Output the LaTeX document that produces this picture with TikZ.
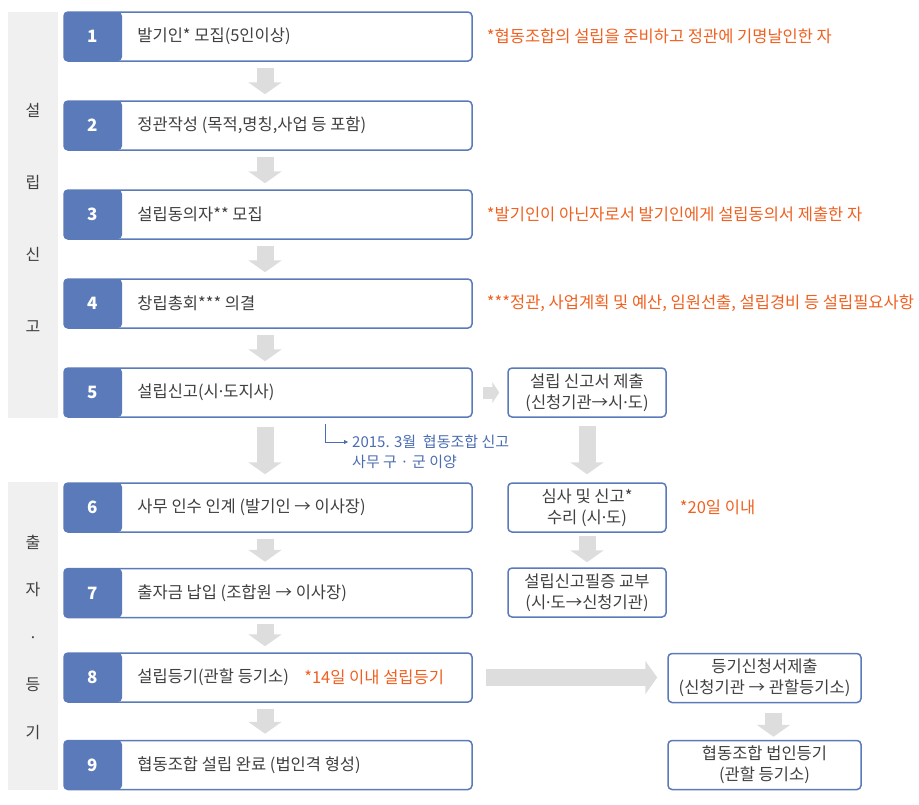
\documentclass[tikz,border=0pt]{standalone}
\usepackage{fontspec}
\setmainfont{Noto Sans CJK KR}
\newfontfamily\dotfont{Noto Sans}
\newcommand{\mdot}{{\dotfont ·}}
\usetikzlibrary{arrows.meta, positioning}
\definecolor{stepblue}{RGB}{90,122,186}
\definecolor{noteorange}{RGB}{240,96,32}
\definecolor{noteblue}{RGB}{74,108,176}
\definecolor{arrowgrey}{RGB}{221,221,221}
\definecolor{bandgrey}{RGB}{240,240,240}
\definecolor{textgrey}{RGB}{64,64,64}

\begin{document}
\begin{tikzpicture}[
    x=1pt, y=1pt,
    stepbox/.style={draw=stepblue, line width=1.5pt, rounded corners=4pt, fill=white,
        minimum width=408pt, minimum height=49pt, inner sep=0pt,
        path picture={\fill[stepblue] (path picture bounding box.south west) rectangle ([xshift=58pt]path picture bounding box.north west);}},
    stepnum/.style={font=\fontsize{17}{20}\selectfont\bfseries, text=white, inner sep=0pt},
    steptext/.style={font=\fontsize{16.5}{19}\selectfont, text=textgrey, inner sep=0pt, anchor=west},
    sidebox/.style={draw=stepblue, line width=1.5pt, rounded corners=4pt, fill=white,
        minimum width=158pt, minimum height=49pt, inner sep=0pt, align=center,
        font=\fontsize{16.5}{21}\selectfont, text=textgrey},
    notetext/.style={font=\fontsize{16.5}{19}\selectfont, text=noteorange, inner sep=0pt},
    flowarrow/.style={draw=arrowgrey, line width=17pt, -{Triangle[width=33pt, length=12pt]},
        shorten <=6pt, shorten >=6pt},
    noteline/.style={draw=noteblue, line width=0.8pt, -{Triangle[width=4pt, length=4pt]}, shorten >=4pt},
    band/.style={fill=bandgrey, minimum width=50pt, inner sep=0pt},
    bandtext/.style={text=textgrey, align=center, inner sep=0pt},
]
\useasboundingbox (0,0) rectangle (919,-804);

% Side bands
\node[band, minimum height=406pt] (band1) at (33,-215) {};
\node[band, minimum height=308pt] (band2) at (33,-636) {};
\node[bandtext, font=\fontsize{16}{72}\selectfont] (label1) at ([yshift=-2.5pt]band1) {설\\립\\신\\고};
\node[bandtext, font=\fontsize{16}{47.5}\selectfont] (label2) at ([yshift=-1pt]band2) {출\\자\\·\\등\\기};

% Steps
\node[stepbox] (s1) at (268,-36.5) {};
\node[stepnum] (n1) at ([xshift=29pt]s1.west) {1};
\node[steptext] (t1) at ([xshift=74pt]s1.west) {발기인* 모집(5인이상)};

\node[stepbox] (s2) at (268,-125.5) {};
\node[stepnum] (n2) at ([xshift=29pt]s2.west) {2};
\node[steptext] (t2) at ([xshift=74pt]s2.west) {정관작성 (목적,명칭,사업 등 포함)};

\node[stepbox] (s3) at (268,-214.5) {};
\node[stepnum] (n3) at ([xshift=29pt]s3.west) {3};
\node[steptext] (t3) at ([xshift=74pt]s3.west) {설립동의자** 모집};

\node[stepbox] (s4) at (268,-303.5) {};
\node[stepnum] (n4) at ([xshift=29pt]s4.west) {4};
\node[steptext] (t4) at ([xshift=74pt]s4.west) {창립총회*** 의결};

\node[stepbox] (s5) at (268,-392.5) {};
\node[stepnum] (n5) at ([xshift=29pt]s5.west) {5};
\node[steptext] (t5) at ([xshift=74pt]s5.west) {설립신고(시\mdot 도지사)};

\node[stepbox] (s6) at (268,-507.5) {};
\node[stepnum] (n6) at ([xshift=29pt]s6.west) {6};
\node[steptext] (t6) at ([xshift=74pt]s6.west) {사무 인수 인계 (발기인 → 이사장)};

\node[stepbox] (s7) at (268,-593) {};
\node[stepnum] (n7) at ([xshift=29pt]s7.west) {7};
\node[steptext] (t7) at ([xshift=74pt]s7.west) {출자금 납입 (조합원 → 이사장)};

\node[stepbox] (s8) at (268,-677.5) {};
\node[stepnum] (n8) at ([xshift=29pt]s8.west) {8};
\node[steptext] (t8) at ([xshift=74pt]s8.west) {설립등기(관할 등기소)};

\node[stepbox] (s9) at (268,-765) {};
\node[stepnum] (n9) at ([xshift=29pt]s9.west) {9};
\node[steptext] (t9) at ([xshift=74pt]s9.west) {협동조합 설립 완료 (법인격 형성)};

% Authority side
\node[sidebox] (r5) at (587,-392.5) {설립 신고서 제출\\(신청기관→시\mdot 도)};
\node[sidebox] (r6) at (587,-507.5) {심사 및 신고*\\수리 (시\mdot 도)};
\node[sidebox] (r7) at (587,-592.5) {설립신고필증 교부\\(시\mdot 도→신청기관)};
\node[sidebox, minimum width=193pt] (r8) at (764.5,-678) {등기신청서제출\\(신청기관 → 관할등기소)};
\node[sidebox, minimum width=193pt] (r9) at (764.5,-765) {협동조합 법인등기\\(관할 등기소)};

% Notes
\node[notetext, right=14pt of s1] (note1) {*협동조합의 설립을 준비하고 정관에 기명날인한 자};
\node[notetext, right=14pt of s3] (note3) {*발기인이 아닌자로서 발기인에게 설립동의서 제출한 자};
\node[notetext, right=14pt of s4] (note4) {***정관, 사업계획 및 예산, 임원선출, 설립경비 등 설립필요사항};
\node[notetext, right=13pt of r6] (note6) {*20일 이내};
\node[notetext, right=15pt of t8] (note8) {*14일 이내 설립등기};

% Transfer note
\node[notetext, font=\fontsize{15}{18}\selectfont, text=noteblue, anchor=west] (note5a) at (352,-442) {2015. 3월\ \ 협동조합 신고};
\node[notetext, font=\fontsize{15}{18}\selectfont, text=noteblue, below=6pt of note5a.south west, anchor=north west] (note5b) {사무 구 · 군 이양};
\coordinate (elbow) at ([xshift=57pt,yshift=-6pt]s5.south);
\draw[noteline] (elbow) |- (note5a.west);

% Flow arrows
\draw[flowarrow] ([xshift=-3pt]s1.south) -- ([xshift=-3pt]s2.north);
\draw[flowarrow] ([xshift=-3pt]s2.south) -- ([xshift=-3pt]s3.north);
\draw[flowarrow] ([xshift=-3pt]s3.south) -- ([xshift=-3pt]s4.north);
\draw[flowarrow] ([xshift=-3pt]s4.south) -- ([xshift=-3pt]s5.north);
\draw[flowarrow, shorten <=9pt, shorten >=8pt] ([xshift=-3pt]s5.south) -- ([xshift=-3pt]s6.north);
\draw[flowarrow] ([xshift=-3pt]s6.south) -- ([xshift=-3pt]s7.north);
\draw[flowarrow] ([xshift=-3pt]s7.south) -- ([xshift=-3pt]s8.north);
\draw[flowarrow] ([xshift=-3pt]s8.south) -- ([xshift=-3pt]s9.north);

\draw[flowarrow, line width=12pt, -{Triangle[width=21pt, length=7pt]}, shorten <=10pt, shorten >=8pt] (s5) -- (r5);
\draw[flowarrow, shorten <=8pt, shorten >=8pt] (r5) -- (r6);
\draw[flowarrow, shorten <=3pt, shorten >=5pt] (r6) -- (r7);
\draw[flowarrow, shorten <=13pt, shorten >=10pt] (s8.east) -- (s8.east -| r8.west);
\draw[flowarrow, shorten <=10pt, shorten >=3pt] ([xshift=9pt]r8.south) -- ([xshift=9pt]r9.north);

\end{tikzpicture}
\end{document}
